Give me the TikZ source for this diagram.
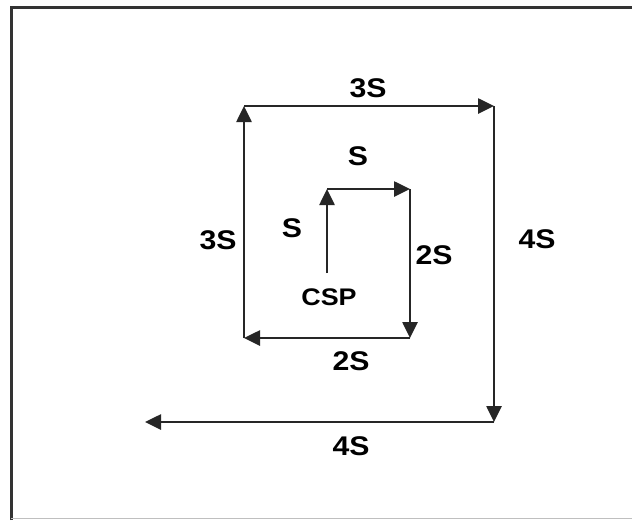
\documentclass[tikz,border=0pt]{standalone}
\usepackage{fontspec}
\setmainfont{Liberation Sans}
\usetikzlibrary{arrows.meta}
\begin{document}
\begin{tikzpicture}[x=1pt,y=-1pt,
  seg/.style={line width=2.6pt,color=black!85,-{Triangle[length=16pt,width=15pt]}},
  lbl/.style={font=\bfseries\fontsize{27}{27}\selectfont,xscale=1.12,inner sep=0pt,text=black},
  small/.style={font=\bfseries\fontsize{24}{24}\selectfont,xscale=1.12,inner sep=0pt,text=black},
  frame/.style={line width=3pt,color=black!80}]
\useasboundingbox (0,0) rectangle (632,520);
\fill[white] (0,0) rectangle (632,520);
% frame
\coordinate (f1) at (11,520);
\coordinate (f2) at (11,7);
\coordinate (f3) at (632,7);
\draw[frame] (f1) -- (f2) -- (f3);
\coordinate (b1) at (11,518.5);
\coordinate (b2) at (632,518.5);
\draw[line width=1.2pt,black!25] (b1) -- (b2);
% spiral points
\coordinate (p0) at (327,273);
\coordinate (p1) at (327,189);
\coordinate (p2) at (410,189);
\coordinate (p3) at (410,338);
\coordinate (p4) at (244,338);
\coordinate (p5) at (244,106);
\coordinate (p6) at (494,106);
\coordinate (p7) at (494,422);
\coordinate (p8) at (145,422);
\draw[seg] (p0) -- (p1);
\draw[seg] (p1) -- (p2);
\draw[seg] (p2) -- (p3);
\draw[seg] (p3) -- (p4);
\draw[seg] (p4) -- (p5);
\draw[seg] (p5) -- (p6);
\draw[seg] (p6) -- (p7);
\draw[seg] (p7) -- (p8);
% labels
\node[lbl] (l3st) at (368,88) {3S};
\node[lbl] (lst) at (358,156) {S};
\node[lbl] (lsl) at (292,228) {S};
\node[lbl] (l3sl) at (218,240) {3S};
\node[lbl] (l2sr) at (434,255) {2S};
\node[lbl] (l4sr) at (537,239) {4S};
\node[small] (csp) at (329,297) {CSP};
\node[lbl] (l2sb) at (351,361) {2S};
\node[lbl] (l4sb) at (351,446) {4S};
\end{tikzpicture}
\end{document}
